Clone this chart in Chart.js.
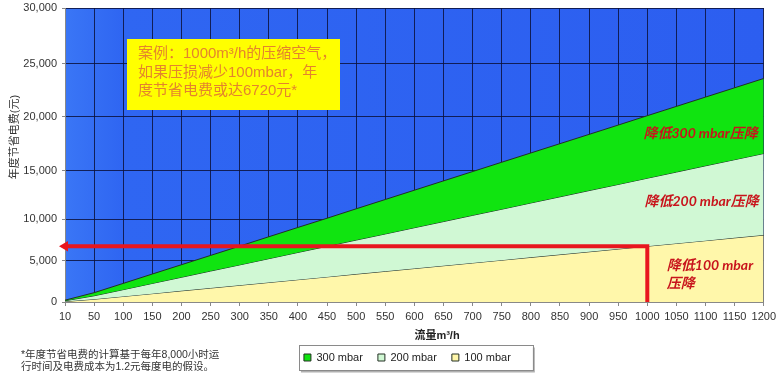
<!DOCTYPE html>
<html>
<head>
<meta charset="utf-8">
<script src="https://cdn.jsdelivr.net/npm/chart.js@4.4.0/dist/chart.umd.min.js"></script>
<style>
  html, body { margin: 0; padding: 0; background: #fff; }
  #wrap { position: relative; width: 780px; height: 376px; }
</style>
</head>
<body>
<div id="wrap"><canvas id="savingChart"></canvas></div>
<script>
// flow categories (m3/h)
const flowLabels = ['10', '50', '100', '150', '200', '250', '300', '350', '400', '450', '500', '550',
  '600', '650', '700', '750', '800', '850', '900', '950', '1000', '1050', '1100', '1150', '1200'];

// yearly saving (yuan)
const save300 = [220, 1120, 2240, 3370, 4490, 5610, 6730, 7860, 8980, 10080, 11060, 12030,
  13000, 13970, 14940, 15810, 16670, 17530, 18390, 19250, 20120, 20990, 21860, 22730, 23600];
const save200 = [150, 750, 1490, 2240, 2980, 3730, 4470, 5220, 5970, 6710, 7460, 8200,
  8950, 9690, 10380, 11020, 11670, 12310, 12960, 13600, 14250, 14890, 15480, 16050, 16620];
const save100 = [67, 336, 672, 1008, 1344, 1680, 2016, 2352, 2688, 3024, 3360, 3696,
  4032, 4368, 4704, 5040, 5376, 5712, 6048, 6384, 6720, 7056, 7392, 7728, 8064];

const seriesNames = ['300 mbar', '200 mbar', '100 mbar'];

// example marked with the red arrow
const exampleFlow = '1000';
const exampleSaving = 6720;

// y axis
const yMin = 0, yMax = 30000, yStep = 5000;

const fontLatin = "'Liberation Sans', Arial, 'Noto Sans CJK SC', sans-serif";
const fontCjk = "'Liberation Sans', 'Noto Sans CJK SC', sans-serif";

// the source picture's value axis is not evenly spaced, so the scale follows its gridlines
const warpValues = [0, 5000, 10000, 15000, 20000, 25000, 30000];
const warpFractions = [0, 0.1412, 0.2823, 0.4456, 0.6293, 0.8112, 1];

function toFraction(v) {
  for (let i = 1; i < warpValues.length; i++) {
    if (v <= warpValues[i] || i === warpValues.length - 1) {
      const t = (v - warpValues[i - 1]) / (warpValues[i] - warpValues[i - 1]);
      return warpFractions[i - 1] + t * (warpFractions[i] - warpFractions[i - 1]);
    }
  }
}
function fromFraction(f) {
  for (let i = 1; i < warpFractions.length; i++) {
    if (f <= warpFractions[i] || i === warpFractions.length - 1) {
      const t = (f - warpFractions[i - 1]) / (warpFractions[i] - warpFractions[i - 1]);
      return warpValues[i - 1] + t * (warpValues[i] - warpValues[i - 1]);
    }
  }
}

class WarpedScale extends Chart.LinearScale {
  getPixelForValue(value) {
    if (value === null || isNaN(value)) return NaN;
    return this.getPixelForDecimal(toFraction(value));
  }
  getValueForPixel(pixel) {
    return fromFraction(this.getDecimalForPixel(pixel));
  }
}
WarpedScale.id = 'warped';
WarpedScale.defaults = Chart.LinearScale.defaults;
Chart.register(WarpedScale);

const legendShift = -7;

const decorations = {
  id: 'decorations',
  afterUpdate(chart) {
    // nudge the legend a little to the left, like the original
    const lg = chart.legend;
    if (!lg) return;
    lg.left += legendShift;
    lg.right += legendShift;
    (lg.legendHitBoxes || []).forEach(h => { h.left += legendShift; });
  },
  beforeDraw(chart) {
    const ctx = chart.ctx;
    const a = chart.chartArea;
    // blue plot background
    const g = ctx.createLinearGradient(a.left, 0, a.right, 0);
    g.addColorStop(0, '#3a76f6');
    g.addColorStop(0.08, '#2f66f2');
    g.addColorStop(1, '#2c5ef0');
    ctx.save();
    ctx.fillStyle = g;
    ctx.fillRect(a.left, a.top, a.right - a.left, a.bottom - a.top);

    // legend frame
    const hb = chart.legend.legendHitBoxes;
    if (hb && hb.length) {
      const last = hb[hb.length - 1];
      const cy = hb[0].top + hb[0].height / 2;
      const x0 = hb[0].left - 5, x1 = last.left + last.width + 22;
      const y0 = Math.round(cy - 12.5) + 0.5;
      ctx.fillStyle = '#b0b0b0';
      ctx.fillRect(x0 + 2, y0 + 2, x1 - x0, 25);
      ctx.fillStyle = '#fff';
      ctx.fillRect(x0, y0, x1 - x0, 25);
      ctx.strokeStyle = '#8a8a8a';
      ctx.lineWidth = 1;
      ctx.strokeRect(Math.round(x0) + 0.5, y0, Math.round(x1 - x0), 25);
    }
    ctx.restore();
  },
  afterDraw(chart) {
    const ctx = chart.ctx;
    const a = chart.chartArea;
    ctx.save();

    // y title
    ctx.fillStyle = '#333';
    ctx.font = '11px ' + fontCjk;
    ctx.textAlign = 'center';
    ctx.textBaseline = 'middle';
    ctx.translate(15, a.top + 129);
    ctx.rotate(-Math.PI / 2);
    ctx.fillText('年度节省电费(元)', 0, 0);
    ctx.setTransform(1, 0, 0, 1, 0, 0);

    // x title
    ctx.font = 'bold 11px ' + fontCjk;
    ctx.fillStyle = '#222';
    ctx.fillText('流量m³/h', a.left + 372, a.bottom + 34);

    // yellow note
    ctx.fillStyle = '#ffff00';
    ctx.fillRect(a.left + 62, a.top + 31, 213, 71);
    ctx.fillStyle = '#e4842c';
    ctx.font = '15px ' + fontCjk;
    ctx.textAlign = 'left';
    ctx.fillText('案例：1000m³/h的压缩空气，', a.left + 73, a.top + 46);
    ctx.fillText('如果压损减少100mbar，年', a.left + 73, a.top + 65);
    ctx.fillText('度节省电费或达6720元*', a.left + 73, a.top + 83);

    // band labels
    ctx.fillStyle = '#c8141c';
    ctx.font = 'italic bold 14px Lato, ' + fontCjk;
    ctx.textAlign = 'right';
    ctx.fillText('降低300 mbar压降', a.right - 6, a.top + 125);
    ctx.fillText('降低200 mbar压降', a.right - 5, a.top + 193);
    ctx.textAlign = 'left';
    ctx.fillText('降低100 mbar', a.right - 97, a.top + 257);
    ctx.fillText('压降', a.right - 97, a.top + 275);

    // footnote
    ctx.fillStyle = '#333';
    ctx.font = '10.5px ' + fontCjk;
    ctx.fillText('*年度节省电费的计算基于每年8,000小时运', 21, 355);
    ctx.fillText('行时间及电费成本为1.2元每度电的假设。', 21, 367);
    ctx.restore();
  }
};

const lineColor = '#243024';

new Chart(document.getElementById('savingChart'), {
  type: 'line',
  data: {
    labels: flowLabels,
    datasets: [
      {
        label: seriesNames[0], data: save300, fill: '+1',
        backgroundColor: '#10e410', borderColor: lineColor, borderWidth: 1,
        pointRadius: 0, tension: 0
      },
      {
        label: seriesNames[1], data: save200, fill: '+1',
        backgroundColor: '#d0f8d4', borderColor: lineColor, borderWidth: 1,
        pointRadius: 0, tension: 0
      },
      {
        label: seriesNames[2], data: save100, fill: 'origin',
        backgroundColor: '#fff7aa', borderColor: lineColor, borderWidth: 1,
        pointRadius: 0, tension: 0
      },
      {
        label: 'example',
        data: [
          { x: flowLabels[0], y: exampleSaving },
          { x: exampleFlow, y: exampleSaving },
          { x: exampleFlow, y: yMin }
        ],
        borderColor: '#e8161e', borderWidth: 4, fill: false,
        pointStyle: 'triangle', rotation: -90,
        pointRadius: [6, 0, 0], pointBackgroundColor: '#e8161e', pointBorderWidth: 0,
        borderJoinStyle: 'miter', clip: false, order: -1
      }
    ]
  },
  options: {
    responsive: true,
    maintainAspectRatio: false,
    animation: false,
    layout: { padding: { top: 8, right: 16, bottom: 3, left: 0 } },
    plugins: {
      tooltip: { enabled: false },
      legend: {
        position: 'bottom',
        fullSize: false,
        labels: {
          filter: (item) => item.datasetIndex < 3,
          boxWidth: 7,
          boxHeight: 7,
          padding: 15,
          color: '#222',
          font: { family: fontLatin, size: 11 }
        }
      }
    },
    scales: {
      x: {
        type: 'category',
        offset: false,
        afterFit: (s) => { s.height = 35; },
        grid: { color: 'rgba(12,18,60,0.85)', tickColor: '#888', tickLength: 4 },
        border: { color: '#888' },
        ticks: {
          autoSkip: false, maxRotation: 0, padding: 4,
          color: '#333', font: { family: fontLatin, size: 11 }
        }
      },
      y: {
        type: 'warped',
        min: yMin,
        max: yMax,
        afterFit: (s) => { s.width = 65; s.paddingTop = 0; s.paddingBottom = 0; },
        grid: { color: 'rgba(12,18,60,0.85)', tickColor: '#888', tickLength: 3 },
        border: { color: '#888' },
        ticks: {
          stepSize: yStep, padding: 5,
          color: '#333', font: { family: fontLatin, size: 11 },
          callback: (v) => v.toLocaleString('en-US')
        }
      }
    }
  },
  plugins: [decorations]
});
</script>
</body>
</html>
